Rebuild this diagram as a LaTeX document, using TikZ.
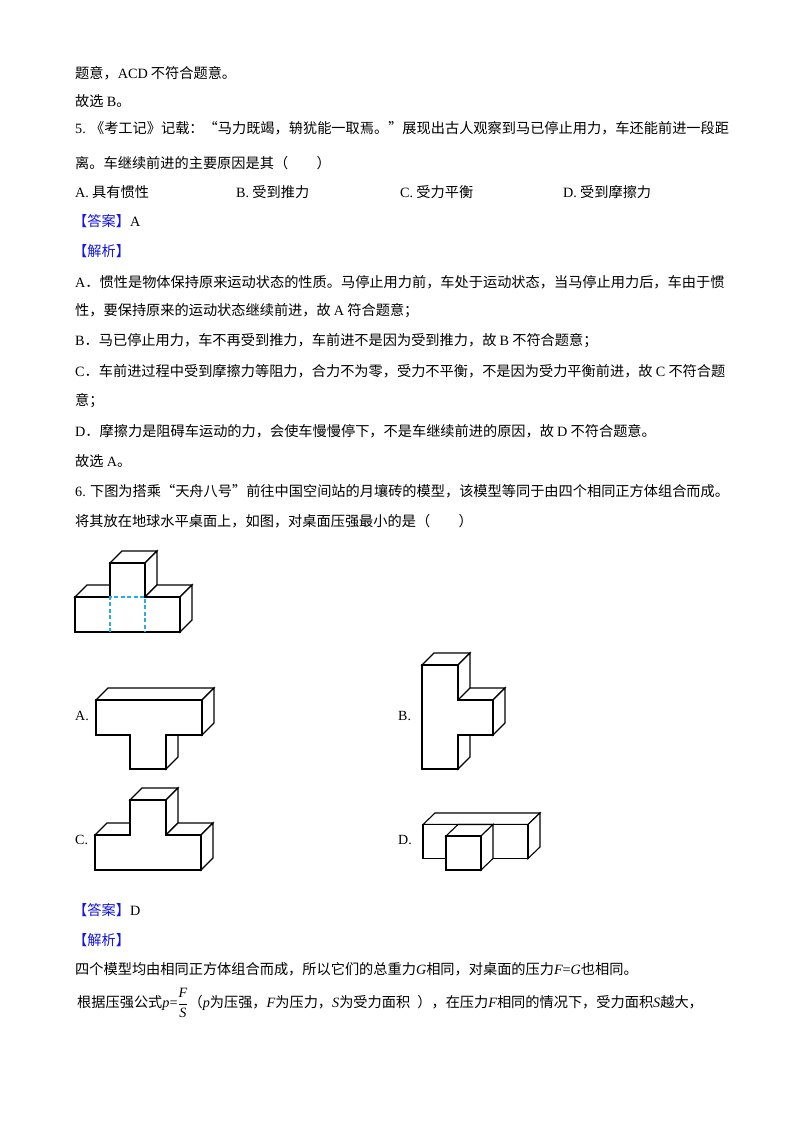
\documentclass[tikz,border=0pt]{standalone}
\usepackage{fontspec}
\setmainfont{Noto Sans CJK SC}
\newfontfamily\en{Liberation Serif}
\newcommand{\E}[1]{{\en #1}}
\newcommand{\I}[1]{{\en\itshape #1}}
\definecolor{ansblue}{RGB}{20,20,230}
\definecolor{dashcyan}{RGB}{40,170,230}
\begin{document}
\begin{tikzpicture}[x=1pt,y=-1pt,
  txt/.style={anchor=west,inner sep=0pt,font=\fontsize{14.2}{16}\selectfont},
  face/.style={draw=black,fill=white,line width=1.1pt,line join=miter},
  lbl/.style={anchor=west,inner sep=0pt,font=\fontsize{14}{16}\selectfont\en}]
\useasboundingbox (0,0) rectangle (800,1132);
\fill[white] (0,0) rectangle (800,1132);
\node[txt] (l1) at (75,73) {题意，\E{ACD} 不符合题意。};
\node[txt] (l2) at (75,101) {故选 \E{B}。};
\node[txt] (l3) at (75,128) {\E{5.} 《考工记》记载：“马力既竭，辀犹能一取焉。”展现出古人观察到马已停止用力，车还能前进一段距};
\node[txt] (l4) at (75,163) {离。车继续前进的主要原因是其（\hspace{2em}）};
\node[txt] (oa) at (75,192) {\E{A.} 具有惯性};
\node[txt] (ob) at (236,192) {\E{B.} 受到推力};
\node[txt] (oc) at (400,192) {\E{C.} 受力平衡};
\node[txt] (od) at (563,192) {\E{D.} 受到摩擦力};
\node[txt] (a1) at (73,221) {\textcolor{ansblue}{【答案】}\E{A}};
\node[txt] (j1) at (73,251) {\textcolor{ansblue}{【解析】}};
\node[txt] (l5) at (75,282) {\E{A}．惯性是物体保持原来运动状态的性质。马停止用力前，车处于运动状态，当马停止用力后，车由于惯};
\node[txt] (l6) at (75,311) {性，要保持原来的运动状态继续前进，故 \E{A} 符合题意；};
\node[txt] (l7) at (75,341) {\E{B}．马已停止用力，车不再受到推力，车前进不是因为受到推力，故 \E{B} 不符合题意；};
\node[txt] (l8) at (75,371) {\E{C}．车前进过程中受到摩擦力等阻力，合力不为零，受力不平衡，不是因为受力平衡前进，故 \E{C} 不符合题};
\node[txt] (l9) at (75,401) {意；};
\node[txt] (l10) at (75,431) {\E{D}．摩擦力是阻碍车运动的力，会使车慢慢停下，不是车继续前进的原因，故 \E{D} 不符合题意。};
\node[txt] (l11) at (75,461) {故选 \E{A}。};
\node[txt] (l12) at (75,491) {\E{6.} 下图为搭乘“天舟八号”前往中国空间站的月壤砖的模型，该模型等同于由四个相同正方体组合而成。};
\node[txt] (l13) at (75,521) {将其放在地球水平桌面上，如图，对桌面压强最小的是（\hspace{2em}）};
% reference figure
\draw[face] (75,597)--(87,585)--(122,585)--(110,597)--cycle;
\draw[face] (110,563)--(122,551)--(157,551)--(145,563)--cycle;
\draw[face] (145,563)--(157,551)--(157,585)--(145,597)--cycle;
\draw[face] (145,597)--(157,585)--(192,585)--(180,597)--cycle;
\draw[face] (180,597)--(192,585)--(192,620)--(180,632)--cycle;
\draw[face] (75,632)--(75,597)--(110,597)--(110,563)--(145,563)--(145,597)--(180,597)--(180,632)--cycle;
\draw[dashcyan,dash pattern=on 4pt off 2.5pt,line width=1.4pt] (110,632)--(110,597)--(145,597)--(145,632);
% A
\node[lbl] (la) at (75,716) {A.};
\draw[face] (96,700)--(108,688)--(214,688)--(202,700)--cycle;
\draw[face] (202,700)--(214,688)--(214,723)--(202,735)--cycle;
\draw[face] (166,735)--(178,723)--(178,757)--(166,769)--cycle;
\draw[face] (96,700)--(202,700)--(202,735)--(166,735)--(166,769)--(130,769)--(130,735)--(96,735)--cycle;
% B
\node[lbl] (lb) at (398,716) {B.};
\draw[face] (422,665)--(434,653)--(470,653)--(458,665)--cycle;
\draw[face] (458,665)--(470,653)--(470,757)--(458,769)--cycle;
\draw[face] (458,700)--(470,688)--(505,688)--(493,700)--cycle;
\draw[face] (493,700)--(505,688)--(505,723)--(493,735)--cycle;
\draw[face] (422,665)--(458,665)--(458,700)--(493,700)--(493,735)--(458,735)--(458,769)--(422,769)--cycle;
% C
\node[lbl] (lc) at (75,840) {C.};
\draw[face] (95,835)--(107,823)--(142,823)--(130,835)--cycle;
\draw[face] (130,800)--(142,788)--(178,788)--(166,800)--cycle;
\draw[face] (166,800)--(178,788)--(178,823)--(166,835)--cycle;
\draw[face] (166,835)--(178,823)--(213,823)--(201,835)--cycle;
\draw[face] (201,835)--(213,823)--(213,858)--(201,870)--cycle;
\draw[face] (95,870)--(95,835)--(130,835)--(130,800)--(166,800)--(166,835)--(201,835)--(201,870)--cycle;
% D
\node[lbl] (ld) at (398,840) {D.};
\draw[face] (423,824.5)--(435,813)--(540,813)--(528,824.5)--cycle;
\draw[face] (528,824.5)--(540,813)--(540,847)--(528,858.5)--cycle;
\draw[face] (423,824.5) rectangle (528,858.5);
\draw[face] (446,836)--(458,824.5)--(493,824.5)--(481,836)--cycle;
\draw[face] (481,836)--(493,824.5)--(493,858.5)--(481,870)--cycle;
\draw[face] (446,836) rectangle (481,870);
% answer 6
\node[txt] (a2) at (73,910) {\textcolor{ansblue}{【答案】}\E{D}};
\node[txt] (j2) at (73,940) {\textcolor{ansblue}{【解析】}};
\node[txt] (l14) at (75,969) {四个模型均由相同正方体组合而成，所以它们的总重力\I{G}相同，对桌面的压力\I{F}\E{=}\I{G}也相同。};
\node[txt] (l15) at (77,1003) {根据压强公式\I{p}\E{=}$\displaystyle\frac{\mbox{\I{F}}}{\mbox{\I{S}}}$（\I{p}为压强，\I{F}为压力，\I{S}为受力面积\hspace{0.5em}），在压力\I{F}相同的情况下，受力面积\I{S}越大，};
\end{tikzpicture}
\end{document}
